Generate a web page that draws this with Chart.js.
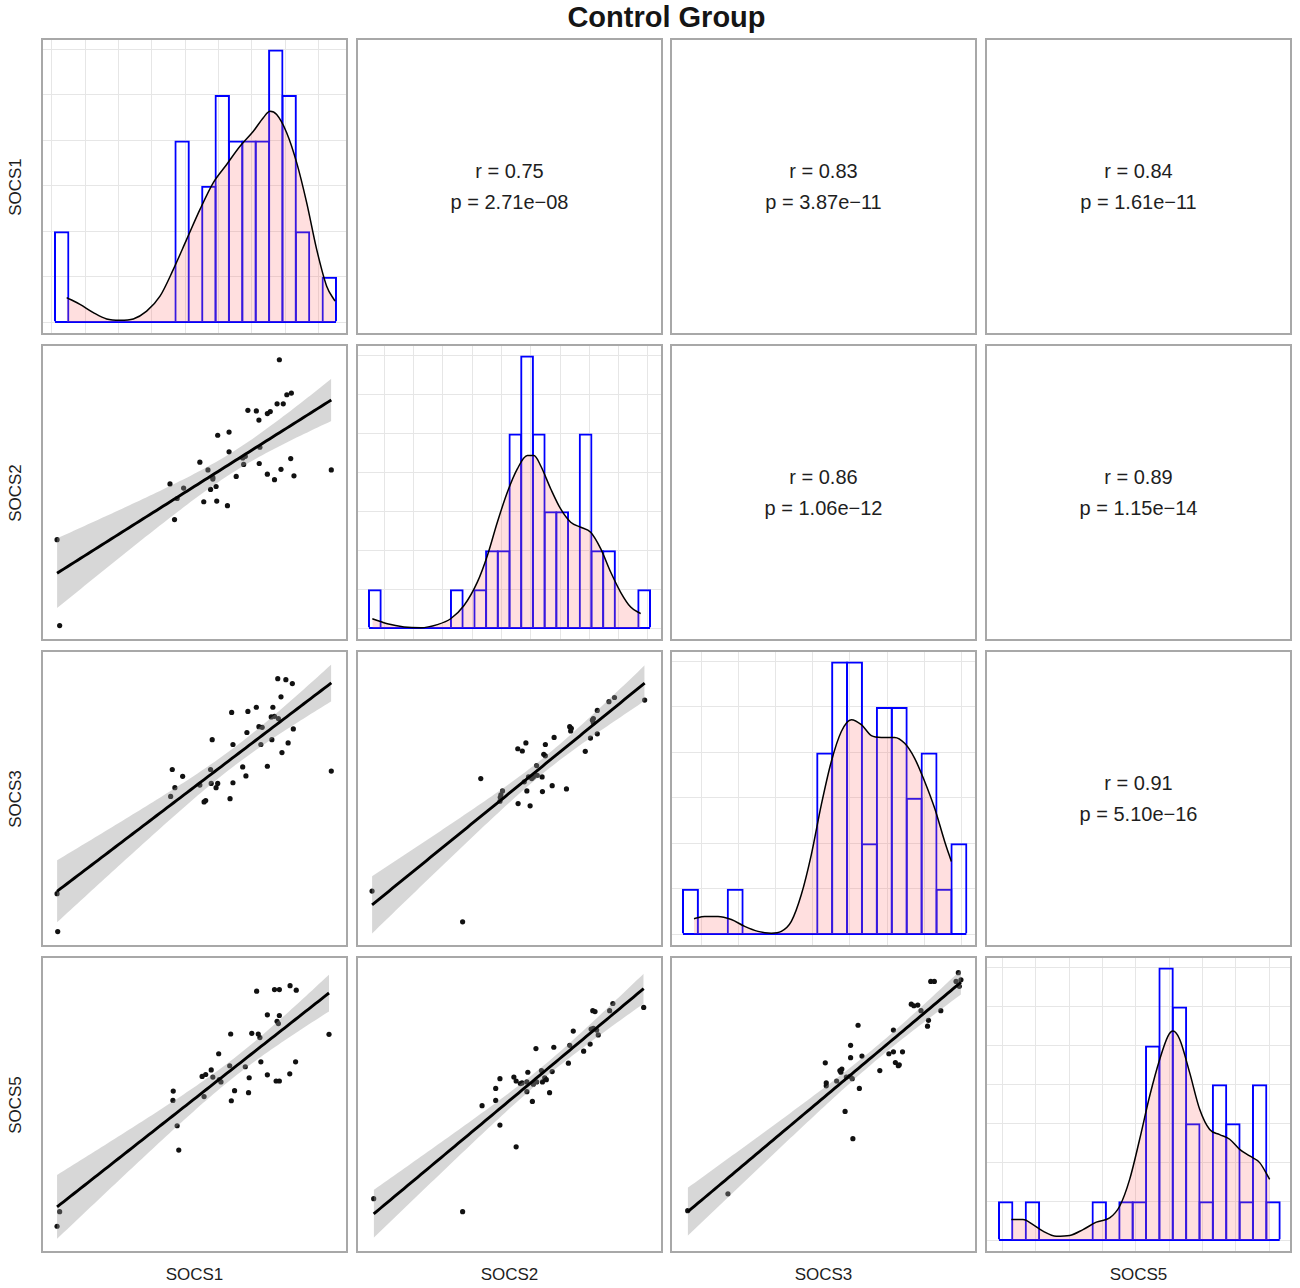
<!DOCTYPE html>
<html><head><meta charset="utf-8">
<script src="https://cdn.jsdelivr.net/npm/chart.js@4.4.1/dist/chart.umd.min.js"></script>
<style>
html,body{margin:0;padding:0;background:#fff;}
body{width:1300px;height:1288px;position:relative;overflow:hidden;font-family:"Liberation Sans",Arial,sans-serif;}
.panel{position:absolute;box-sizing:border-box;border:2px solid #a8a8a8;background:#fff;}
.panel canvas{display:block;}
.title{position:absolute;left:41px;width:1251px;top:1px;text-align:center;font-weight:bold;font-size:29px;line-height:32px;color:#151515;}
.xlab{position:absolute;width:200px;text-align:center;font-size:17px;color:#1e1e1e;top:1264px;line-height:22px;}
.ylab{position:absolute;width:200px;height:22px;text-align:center;font-size:17px;color:#1e1e1e;line-height:22px;transform:rotate(-90deg);}
.corr{position:absolute;left:0;right:0;top:116px;text-align:center;font-size:20px;line-height:31px;color:#1e1e1e;}
</style>
</head><body>
<div class="title" id="title">Control Group</div>
<script>
// ---------------- DATA ----------------
const chartTitle = 'Control Group';
const variables = ['SOCS1', 'SOCS2', 'SOCS3', 'SOCS5'];

// upper panels: [row, col] pairs with correlation text
const corrCells = [[0,1],[0,2],[0,3],[1,2],[1,3],[2,3]];
const corrR = ['0.75', '0.83', '0.84', '0.86', '0.89', '0.91'];
const corrP = ['2.71e\u221208', '3.87e\u221211', '1.61e\u221211', '1.06e\u221212', '1.15e\u221214', '5.10e\u221216'];

// diagonal histograms (counts per bin, first break, bin width)
const hist1Counts = [2,0,0,0,0,0,0,0,0,4,0,3,5,4,4,4,6,5,2,0,1];
const hist2Counts = [1,0,0,0,0,0,0,1,0,1,2,2,5,7,5,3,3,0,5,2,2,0,0,1];
const hist3Counts = [1,0,0,1,0,0,0,0,0,4,6,6,2,5,5,3,4,1,2];
const hist5Counts = [1,0,1,0,0,0,0,1,0,1,1,5,7,6,3,1,4,3,1,4,1];
const histStart = [4.5, 4.5, 4.5, 4.8];
const histWidth = [4.014, 3.5125, 4.474, 4.01];
const histGridStart = [8.5, 4.6, 4.4, 0.8];
const histGridStep = [10.0, 8.8, 11.15, 10.0];

// density curves (scaled to counts)
const dens1X = [8,12,16,20,24,28,32,36,40,44,48,52,56,60,64,67,69,71,74,77,80,83,86,88.5];
const dens1Y = [0.54,0.39,0.21,0.07,0.04,0.07,0.24,0.57,1.16,1.82,2.48,3.07,3.47,3.87,4.20,4.50,4.64,4.57,4.17,3.51,2.63,1.60,0.79,0.46];
const dens2X = [5.5,10,15,20,25,29,33,37,40,43,46,49,52,54,56,59,62,65,68,71,74,77,80,83,86];
const dens2Y = [0.24,0.11,0.03,0.01,0.09,0.24,0.58,1.18,1.86,2.72,3.49,4.09,4.43,4.43,4.17,3.58,3.06,2.72,2.59,2.46,2.04,1.44,0.92,0.54,0.37];
const dens3X = [7.8,11,15,19,23,27,31,34,37,40,43,46,49,52,55,58,61,64,68,71,74,77,80,83,85];
const dens3Y = [0.34,0.39,0.39,0.32,0.17,0.06,0.02,0.06,0.28,0.87,1.75,2.85,3.80,4.46,4.72,4.61,4.37,4.33,4.33,4.20,3.87,3.36,2.77,2.04,1.60];
const dens5X = [8.5,12,15,18,22,26,30,34,38,41,44,47,50,53,55.5,57,59,62,65,68,71,74,77,80,83,86];
const dens5Y = [0.53,0.53,0.40,0.23,0.10,0.12,0.27,0.46,0.57,0.87,1.56,2.59,3.70,4.64,5.24,5.37,5.16,4.30,3.36,2.84,2.71,2.59,2.33,2.16,1.99,1.56];

// lower scatter panels (x = column variable, y = row variable)
const sc21X = [72.5,74.8,76.2,71.8,73.7,62.8,65.4,68.8,69.7,66.2,53.5,57.0,57.0,66.5,48.0,61.5,66.3,76.0,50.5,73.0,68.8,71.0,77.0,59.2,88.5,52.0,38.8,43.0,51.3,53.0,41.0,49.2,53.2,56.5,40.2,4.0,4.8,61.2,52.0,62.0];
const sc21Y = [85.8,75.0,75.5,72.2,72.2,70.2,70.0,69.2,69.8,67.2,62.5,63.5,57.4,58.8,54.2,53.5,53.8,55.3,51.8,52.0,50.5,48.8,50.0,49.8,51.8,49.5,47.5,46.2,45.8,46.7,43.0,42.0,42.2,40.8,36.5,30.3,3.8,55.5,49.0,56.0];
const sc31X = [72.0,74.5,76.5,73.0,57.8,62.8,65.4,70.5,71.0,72.2,66.2,67.2,76.8,62.5,51.8,58.2,66.8,70.2,75.2,73.3,39.5,51.3,61.2,68.8,42.7,62.2,40.3,51.5,53.5,58.2,53.0,48.0,39.0,49.8,49.3,57.3,88.5,4.0,4.2,70.0];
const sc31Y = [81.8,81.5,80.3,76.2,71.4,71.7,73.0,73.0,70.2,69.5,67.0,66.8,66.3,65.2,63.0,61.5,61.5,63.0,62.0,59.0,53.8,53.8,54.6,54.8,51.7,51.8,48.2,49.5,49.5,49.7,48.2,49.0,45.5,44.2,43.8,44.8,53.3,15.5,3.8,70.0];
const sc41X = [65.5,71.0,72.5,75.8,77.7,68.8,72.5,71.8,72.2,57.5,64.0,66.0,66.5,87.8,53.8,57.2,62.0,66.8,77.5,51.5,49.8,48.7,52.0,54.0,54.5,63.2,68.8,71.5,72.5,75.7,39.8,58.7,63.0,39.7,49.3,57.7,41.0,41.5,4.8,4.0];
const sc41Y = [79.5,80.0,80.0,81.2,79.8,72.2,72.0,70.2,69.5,66.3,66.5,66.3,65.2,66.2,60.2,56.5,56.2,57.7,57.7,55.2,53.8,53.2,53.0,52.2,51.5,52.8,53.7,51.8,51.8,54.0,48.7,48.8,48.2,45.8,47.0,45.7,38.0,30.5,11.5,7.0];
const sc32X = [79.0,77.3,88.3,73.7,72.2,72.5,65.2,65.5,60.4,57.7,51.7,49.2,50.6,71.6,73.7,70.0,57.2,57.7,55.0,37.8,52.5,54.0,56.7,53.5,59.8,64.2,52.0,56.8,44.5,43.8,43.7,49.3,53.0,4.3,32.2,51.2,55.2,44.0,72.5,65.7];
const sc32Y = [76.0,74.7,75.2,72.0,69.0,68.2,67.0,65.7,63.7,61.5,62.0,60.2,59.5,63.5,64.8,59.4,58.5,58.0,55.0,51.0,51.5,51.5,51.5,51.0,48.8,47.8,47.2,47.0,47.2,45.2,44.0,43.3,42.6,16.3,6.8,50.0,52.0,46.0,69.5,66.5];
const sc42X = [78.5,77.5,88.0,72.3,73.0,66.3,71.8,73.5,74.0,54.8,60.3,65.2,71.5,69.5,64.8,52.3,56.5,59.8,43.7,48.0,48.7,50.5,52.0,55.0,56.8,58.0,42.4,52.0,59.0,42.4,53.7,38.2,43.7,48.7,4.8,32.2,50.0,54.0,57.5,72.5];
const sc42Y = [75.7,73.5,74.5,73.5,73.2,67.2,67.8,67.5,66.0,61.8,62.2,62.8,63.2,61.0,57.3,54.5,55.0,54.7,52.5,53.0,51.8,51.2,51.5,51.5,51.5,52.2,49.5,48.5,48.2,45.8,45.5,44.2,38.2,31.5,15.5,11.5,51.0,50.8,52.8,68.0];
const sc43X = [88.2,89.0,87.5,88.5,79.7,80.8,73.7,75.7,76.7,82.8,79.0,78.7,57.3,68.2,55.0,55.0,58.5,66.8,68.2,71.0,47.2,68.8,69.7,70.0,51.7,52.3,64.0,47.5,47.5,50.7,53.7,55.5,54.8,57.7,53.3,55.7,17.2,4.8,74.5,52.0];
const sc43Y = [85.2,83.0,82.5,81.0,82.5,82.5,75.5,75.2,73.5,73.5,70.5,68.7,69.0,67.5,62.8,59.0,59.5,60.2,60.8,60.8,57.4,57.5,56.5,56.8,55.0,55.5,55.0,51.2,50.3,51.8,53.0,52.5,53.2,49.5,42.4,34.0,17.0,11.8,75.0,54.5];

// ---------------- LAYOUT ----------------
const colLeft = [41, 356, 670, 985], rowTop = [38, 344, 650, 956];
const colDx = [1, 2, 2, 2], rowDy = [1, 2, 2, 3];
const PW = 307, PH = 297, CW = 303, CH = 293;
function xRange(c){ return [0.3*(colDx[c]+2), 0.3*(colDx[c]+2+CW)]; }
function yRange(r){ return [90-0.3*(rowDy[r]+2+CH), 90-0.3*(rowDy[r]+2)]; }

const common = {responsive:false, animation:false, events:[], layout:{padding:0},
  plugins:{legend:{display:false}, tooltip:{enabled:false}}};

function makePanel(r, c){
  const d = document.createElement('div');
  d.className = 'panel';
  d.style.left = colLeft[c]+'px'; d.style.top = rowTop[r]+'px';
  d.style.width = PW+'px'; d.style.height = PH+'px';
  document.body.appendChild(d);
  return d;
}
function makeCanvas(panel){
  const cv = document.createElement('canvas');
  cv.width = CW; cv.height = CH;
  cv.style.width = CW+'px'; cv.style.height = CH+'px';
  panel.appendChild(cv);
  return cv;
}

function tQ975(df){
  const z = 1.959964;
  return z + (z*z*z+z)/(4*df) + (5*Math.pow(z,5)+16*z*z*z+3*z)/(96*df*df);
}
function fitBand(xs, ys){
  const n = xs.length;
  const mx = xs.reduce((a,b)=>a+b,0)/n, my = ys.reduce((a,b)=>a+b,0)/n;
  let sxx=0, sxy=0;
  for(let i=0;i<n;i++){ sxx += (xs[i]-mx)**2; sxy += (xs[i]-mx)*(ys[i]-my); }
  const b = sxy/sxx, a = my - b*mx;
  let sse = 0;
  for(let i=0;i<n;i++){ sse += (ys[i]-(a+b*xs[i]))**2; }
  const s = Math.sqrt(sse/(n-2)), t = tQ975(n-2);
  const x0 = Math.min(...xs), x1 = Math.max(...xs);
  const fit=[], lo=[], hi=[];
  const N = 80;
  for(let k=0;k<=N;k++){
    const x = x0 + (x1-x0)*k/N, yh = a + b*x;
    const se = s*Math.sqrt(1/n + (x-mx)**2/sxx);
    fit.push({x, y:yh}); lo.push({x, y:yh - t*se}); hi.push({x, y:yh + t*se});
  }
  return {fit, lo, hi};
}

function scatterChart(r, c, xs, ys){
  const cv = makeCanvas(makePanel(r, c));
  const [xmin,xmax] = xRange(c), [ymin,ymax] = yRange(r);
  const f = fitBand(xs, ys);
  new Chart(cv, {type:'scatter', data:{datasets:[
    {data: xs.map((x,i)=>({x, y:ys[i]})), pointRadius:2.6, pointBackgroundColor:'#111', pointBorderWidth:0, pointBorderColor:'rgba(0,0,0,0)', order:4},
    {type:'line', data:f.lo, borderColor:'rgba(0,0,0,0)', borderWidth:0, pointRadius:0, fill:false, order:3},
    {type:'line', data:f.hi, borderColor:'rgba(0,0,0,0)', borderWidth:0, pointRadius:0, fill:'-1', backgroundColor:'rgba(150,150,150,0.38)', order:2},
    {type:'line', data:f.fit, borderColor:'#000', borderWidth:2.9, pointRadius:0, fill:false, order:1}
  ]}, options:{...common, scales:{
    x:{type:'linear', display:false, min:xmin, max:xmax},
    y:{type:'linear', display:false, min:ymin, max:ymax}}}});
}

function histChart(i, counts, densX, densY){
  const cv = makeCanvas(makePanel(i, i));
  const [xmin,xmax] = xRange(i);
  const start = histStart[i], w = histWidth[i];
  const M = Math.max(...counts);
  const centers = counts.map((_,k)=>start + w*(k+0.5));
  const end = start + w*counts.length;
  const bw = 2;
  const binPx = CW*w/(xmax-xmin);
  const xGrid = [];
  for(let v=histGridStart[i]; v<=xmax; v+=histGridStep[i]) if(v>=xmin) xGrid.push(v);
  const yGrid = [];
  for(let k=0;k<=M;k++) yGrid.push(k);
  const gridOpt = {color:'#e6e6e6', lineWidth:1, drawTicks:false};
  new Chart(cv, {type:'bar', data:{datasets:[
    {type:'line', data: densX.map((x,k)=>({x, y:densY[k]})), borderColor:'#000', borderWidth:1.5,
      backgroundColor:'rgba(255,110,110,0.22)', fill:'origin', pointRadius:0, cubicInterpolationMode:'monotone', order:1},
    {type:'line', data:[{x:start,y:0},{x:end,y:0}], borderColor:'#0000ff', borderWidth:2, pointRadius:0, fill:false, order:2},
    {type:'bar', data: centers.map((x,k)=>({x, y:counts[k]})), backgroundColor:'rgba(0,0,0,0)', borderColor:'#0000ff',
      borderWidth:bw, borderSkipped:'start', barPercentage:1+bw/binPx, categoryPercentage:1, inflateAmount:0, order:3}
  ]}, options:{...common, scales:{
    x:{type:'linear', offset:false, min:xmin, max:xmax, grid:gridOpt, border:{display:false}, ticks:{display:false},
       afterBuildTicks:(ax)=>{ ax.ticks = xGrid.map(v=>({value:v})); }, afterFit:(ax)=>{ ax.height = 0; }},
    y:{type:'linear', min:-0.04*M, max:1.035*M, grid:gridOpt, border:{display:false}, ticks:{display:false},
       afterBuildTicks:(ax)=>{ ax.ticks = yGrid.map(v=>({value:v})); }, afterFit:(ax)=>{ ax.width = 0; }}
  }}});
}

function corrPanel(k){
  const [r,c] = corrCells[k];
  const p = makePanel(r, c);
  const t = document.createElement('div');
  t.className = 'corr';
  t.innerHTML = 'r = ' + corrR[k] + '<br>p = ' + corrP[k];
  p.appendChild(t);
}

// ---------------- BUILD ----------------
document.getElementById('title').textContent = chartTitle;
histChart(0, hist1Counts, dens1X, dens1Y);
histChart(1, hist2Counts, dens2X, dens2Y);
histChart(2, hist3Counts, dens3X, dens3Y);
histChart(3, hist5Counts, dens5X, dens5Y);
scatterChart(1, 0, sc21X, sc21Y);
scatterChart(2, 0, sc31X, sc31Y);
scatterChart(3, 0, sc41X, sc41Y);
scatterChart(2, 1, sc32X, sc32Y);
scatterChart(3, 1, sc42X, sc42Y);
scatterChart(3, 2, sc43X, sc43Y);
for(let k=0;k<corrCells.length;k++) corrPanel(k);

variables.forEach((v,i)=>{
  const xl = document.createElement('div');
  xl.className = 'xlab'; xl.textContent = v;
  xl.style.left = (colLeft[i] + PW/2 - 100) + 'px';
  document.body.appendChild(xl);
  const yl = document.createElement('div');
  yl.className = 'ylab'; yl.textContent = v;
  yl.style.left = (16 - 100) + 'px';
  yl.style.top = (rowTop[i] + PH/2 - 11) + 'px';
  document.body.appendChild(yl);
});
</script>
</body></html>
